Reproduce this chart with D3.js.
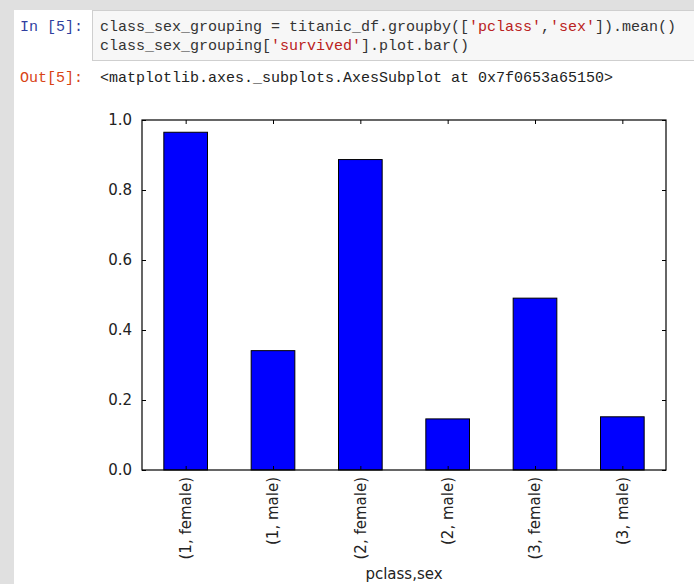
<!DOCTYPE html>
<html>
<head>
<meta charset="utf-8">
<script src="https://cdn.jsdelivr.net/npm/d3@7"></script>
<style>
  html, body { margin: 0; padding: 0; background: #e0e0e0; }
  svg { display: block; }
</style>
</head>
<body>
<svg id="chart" width="694" height="584"></svg>
<script>
// ---- data ----
const categories = ["(1, female)", "(1, male)", "(2, female)", "(2, male)", "(3, female)", "(3, male)"];
const survived = [0.965, 0.341, 0.887, 0.146, 0.491, 0.152];
const yTicks = [0.0, 0.2, 0.4, 0.6, 0.8, 1.0];
const xAxisLabel = "pclass,sex";

// ---- layout ----
const W = 694, H = 584;
const plot = { left: 142, right: 666, top: 120, bottom: 470 };
const svg = d3.select("#chart");

// page background
svg.append("rect").attr("x", 0).attr("y", 0).attr("width", W).attr("height", H).attr("fill", "#e0e0e0");
svg.append("rect").attr("x", 14).attr("y", 10).attr("width", W - 14).attr("height", H - 10).attr("fill", "#ffffff");

// input cell
svg.append("rect").attr("x", 92.5).attr("y", 10.5).attr("width", 700).attr("height", 50)
  .attr("fill", "#f7f7f7").attr("stroke", "#cfcfcf");

const mono = "'Liberation Mono', 'Courier New', monospace";
const codeG = svg.append("g").attr("font-family", mono).attr("font-size", 15);

codeG.append("text").attr("x", 83).attr("y", 31).attr("text-anchor", "end")
  .attr("fill", "#303f9f").text("In [5]:");

const line1 = codeG.append("text").attr("x", 100).attr("y", 31).attr("fill", "#333");
line1.append("tspan").text("class_sex_grouping = titanic_df.groupby([");
line1.append("tspan").attr("fill", "#ba2121").text("'pclass'");
line1.append("tspan").text(",");
line1.append("tspan").attr("fill", "#ba2121").text("'sex'");
line1.append("tspan").text("]).mean()");

const line2 = codeG.append("text").attr("x", 100).attr("y", 50).attr("fill", "#333");
line2.append("tspan").text("class_sex_grouping[");
line2.append("tspan").attr("fill", "#ba2121").text("'survived'");
line2.append("tspan").text("].plot.bar()");

codeG.append("text").attr("x", 83).attr("y", 82).attr("text-anchor", "end")
  .attr("fill", "#d84315").text("Out[5]:");
codeG.append("text").attr("x", 100).attr("y", 82).attr("fill", "#222")
  .text("<matplotlib.axes._subplots.AxesSubplot at 0x7f0653a65150>");

// ---- chart ----
const x = d3.scaleBand().domain(categories).range([plot.left, plot.right])
  .paddingInner(0.5).paddingOuter(0.25);
const y = d3.scaleLinear().domain([0, 1]).range([plot.bottom, plot.top]);

const sans = "'DejaVu Sans', sans-serif";
const fs = 15;

// bars
svg.append("g").selectAll("rect").data(categories).join("rect")
  .attr("x", d => x(d))
  .attr("y", (d, i) => y(survived[i]))
  .attr("width", x.bandwidth())
  .attr("height", (d, i) => y(0) - y(survived[i]))
  .attr("fill", "#0000ff")
  .attr("stroke", "#000")
  .attr("stroke-width", 1);

// frame
svg.append("rect").attr("x", plot.left).attr("y", plot.top)
  .attr("width", plot.right - plot.left).attr("height", plot.bottom - plot.top)
  .attr("fill", "none").attr("stroke", "#000").attr("stroke-width", 1.2);

// axes with inward ticks via d3 axes
const tickLen = 4;
const leftAxis = d3.axisLeft(y).tickValues(yTicks).tickFormat(d3.format(".1f")).tickSizeInner(-tickLen).tickSizeOuter(0).tickPadding(10);
const gL = svg.append("g").attr("transform", `translate(${plot.left},0)`).call(leftAxis);
const rightAxis = d3.axisRight(y).tickValues(yTicks).tickSizeInner(-tickLen).tickSizeOuter(0).tickFormat("");
const gR = svg.append("g").attr("transform", `translate(${plot.right},0)`).call(rightAxis);

const band = d => x(d) + x.bandwidth() / 2;
const xc = d3.scalePoint().domain(categories).range([band(categories[0]), band(categories[categories.length - 1])]);
const bottomAxis = d3.axisBottom(xc).tickSizeInner(-tickLen).tickSizeOuter(0).tickFormat("");
const gB = svg.append("g").attr("transform", `translate(0,${plot.bottom})`).call(bottomAxis);
const topAxis = d3.axisTop(xc).tickSizeInner(-tickLen).tickSizeOuter(0).tickFormat("");
const gT = svg.append("g").attr("transform", `translate(0,${plot.top})`).call(topAxis);

[gL, gR, gB, gT].forEach(g => {
  g.select(".domain").remove();
  g.selectAll(".tick line").attr("stroke", "#000");
});
gL.attr("font-family", null).attr("font-size", null);
gL.selectAll(".tick text").attr("font-family", sans).attr("font-size", fs).attr("fill", "#222");

// x tick labels rotated
svg.append("g").selectAll("text").data(categories).join("text")
  .attr("transform", d => `translate(${xc(d)},${plot.bottom + 7}) rotate(-90)`)
  .attr("text-anchor", "end")
  .attr("dy", "0.35em")
  .attr("font-family", sans).attr("font-size", fs).attr("fill", "#222")
  .text(d => d);

// x axis label
svg.append("text").attr("x", (plot.left + plot.right) / 2).attr("y", 579)
  .attr("text-anchor", "middle").attr("font-family", sans).attr("font-size", fs).attr("fill", "#222")
  .text(xAxisLabel);
</script>
</body>
</html>
